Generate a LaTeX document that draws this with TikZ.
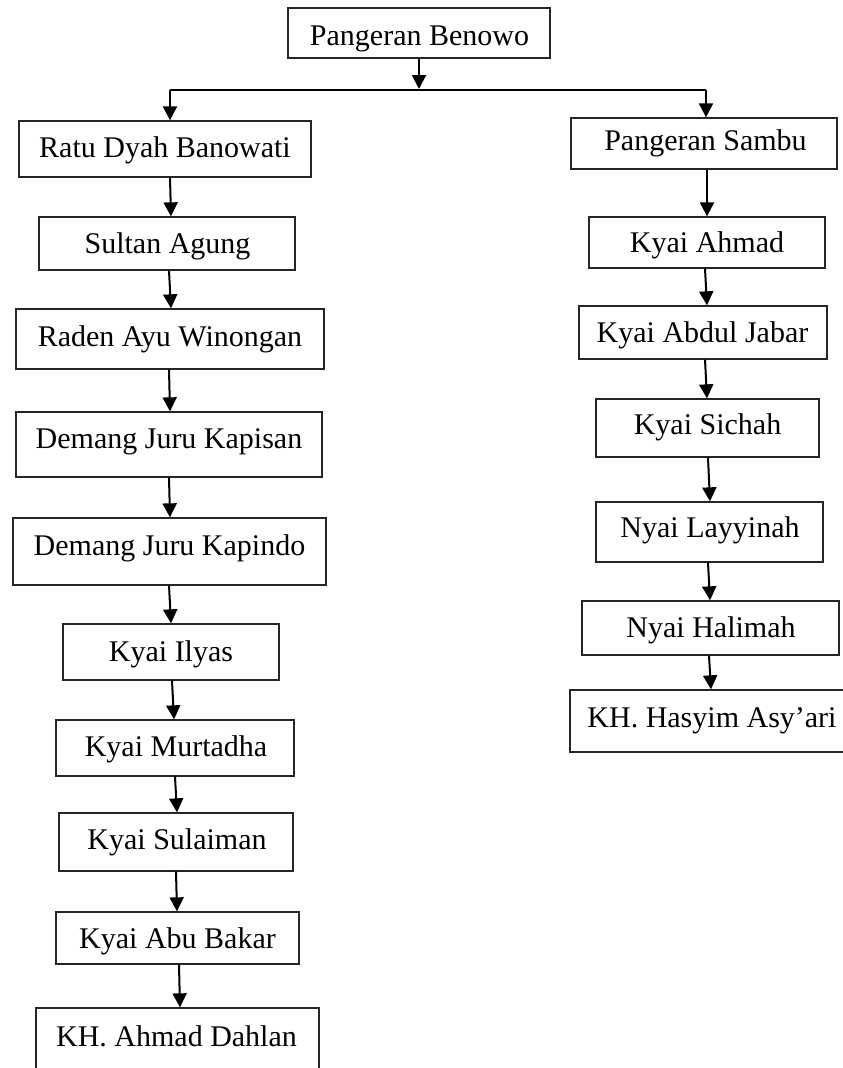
\documentclass[tikz,border=0pt]{standalone}
\usepackage{fontspec}
\setmainfont{Liberation Serif}
\usetikzlibrary{arrows.meta}
\tikzset{
  box/.style={draw=black!85, line width=1.3pt, inner sep=0pt, rectangle},
  lbl/.style={anchor=base, inner sep=0pt, font=\fontsize{30}{34}\selectfont},
  arr/.style={line width=2pt, -{Triangle[length=14pt,width=14pt]}},
  bar/.style={line width=2.6pt}
}
% name, cx, w, cy, h, tx, baseline, text
\newcommand\pb[8]{%
  \node[box, minimum width=#3pt, minimum height=#5pt] (#1) at (#2,#4) {};
  \node[lbl] (#1-t) at (#6,#7) {#8};}
% from, dx, to, dx
\newcommand\conn[4]{\draw[arr] ([xshift=#2pt]#1.south) -- ([xshift=#4pt]#3.north);}
\begin{document}
\begin{tikzpicture}[x=1pt,y=-1pt]
\useasboundingbox (0,0) rectangle (843,1068);
\fill[white] (0,0) rectangle (843,1068);
\clip (0,0) rectangle (843,1068);
% top
\pb{benowo}{419}{262}{33}{50}{419.5}{45}{Pangeran Benowo}
% left column
\pb{ratu}{165}{292}{149}{56}{165}{157}{Ratu Dyah Banowati}
\pb{sultan}{167}{256}{243.5}{53}{167.5}{253.5}{Sultan Agung}
\pb{raden}{170}{308}{339}{60}{170}{346.5}{Raden Ayu Winongan}
\pb{kapisan}{169}{306}{444.5}{65}{169}{448.5}{Demang Juru Kapisan}
\pb{kapindo}{169.5}{313}{551.5}{67}{169.5}{555.5}{Demang Juru Kapindo}
\pb{ilyas}{171}{216}{652}{56}{171}{661}{Kyai Ilyas}
\pb{murtadha}{175}{238}{748}{56}{176}{756.5}{Kyai Murtadha}
\pb{sulaiman}{176}{234}{842}{58}{177}{849.5}{Kyai Sulaiman}
\pb{abubakar}{177.5}{243}{938}{52}{177.5}{948.5}{Kyai Abu Bakar}
\pb{dahlan}{177.5}{283}{1049}{82}{176.5}{1046}{KH. Ahmad Dahlan}
% right column
\pb{sambu}{704}{266}{143.5}{51}{705.5}{150.5}{Pangeran Sambu}
\pb{ahmad}{707}{236}{242.5}{51}{707}{252.5}{Kyai Ahmad}
\pb{jabar}{703}{248}{332.5}{53}{702.5}{342.5}{Kyai Abdul Jabar}
\pb{sichah}{707.5}{223}{428}{58}{707.5}{434.5}{Kyai Sichah}
\pb{layyinah}{709.5}{227}{532}{60}{710}{537.5}{Nyai Layyinah}
\pb{halimah}{710.5}{257}{628}{54}{711}{637.5}{Nyai Halimah}
\pb{hasyim}{712}{284}{721}{62}{712}{727.5}{KH. Hasyim Asy’ari}
% junction
\coordinate (jl) at (170,90);
\coordinate (jm) at (419,90);
\coordinate (jr) at (706,90);
\draw[bar] (jl) -- (jr);
\draw[arr, shorten >=1pt] (benowo.south) -- (jm);
\draw[arr] (jl) -- (ratu.north -| jl);
\draw[arr] (jr) -- (sambu.north -| jr);
% left chain
\conn{ratu}{5}{sultan}{4}
\conn{sultan}{2}{raden}{1}
\conn{raden}{-1}{kapisan}{1}
\conn{kapisan}{0}{kapindo}{0.5}
\conn{kapindo}{-0.5}{ilyas}{0}
\conn{ilyas}{1}{murtadha}{-1}
\conn{murtadha}{0}{sulaiman}{1}
\conn{sulaiman}{0}{abubakar}{-0.5}
\conn{abubakar}{1.5}{dahlan}{2.5}
% right chain
\conn{sambu}{3}{ahmad}{0}
\conn{ahmad}{-2}{jabar}{4}
\conn{jabar}{2}{sichah}{-0.5}
\conn{sichah}{0.5}{layyinah}{0.5}
\conn{layyinah}{-1.5}{halimah}{-0.5}
\conn{halimah}{-1.5}{hasyim}{-1}
\end{tikzpicture}
\end{document}
